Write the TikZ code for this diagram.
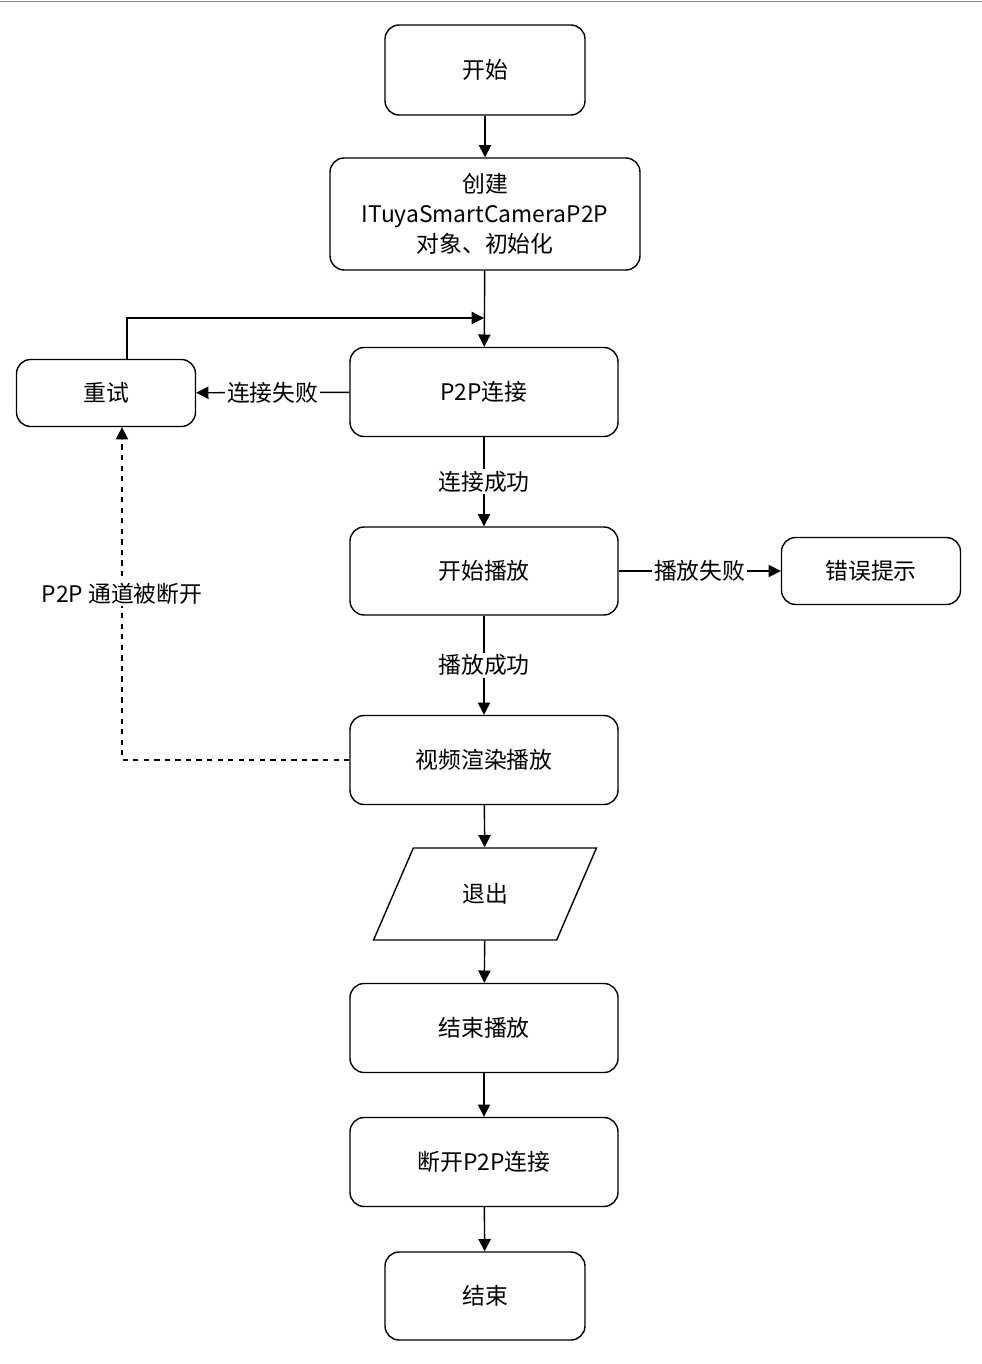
\documentclass[tikz,border=0pt]{standalone}
\usepackage{fontspec}
\setmainfont{Noto Sans CJK SC}
\usetikzlibrary{shapes.geometric,arrows.meta}

\begin{document}
\begin{tikzpicture}[x=0.02cm,y=-0.02cm,
  box/.style={draw, thick, rounded corners=8pt, align=center, inner sep=0pt,
    font=\fontsize{13}{17}\selectfont},
  lbl/.style={fill=white, inner sep=1pt, font=\fontsize{13}{16}\selectfont},
  arr/.style={thick, -{Triangle[length=7pt,width=7pt]}}]

\useasboundingbox (0,0) rectangle (982,1364);
\draw[gray, very thin] (0,1) -- (982,1);

% nodes
\node[box, minimum width=4cm, minimum height=1.8cm] (start) at (485,70) {开始};
\node[box, minimum width=6.2cm, minimum height=2.24cm] (create) at (485,214) {创建\\ITuyaSmartCameraP2P\\对象、初始化};
\node[box, minimum width=5.36cm, minimum height=1.78cm] (p2p) at (484,392) {P2P连接};
\node[box, minimum width=3.58cm, minimum height=1.34cm] (retry) at (106,393) {重试};
\node[box, minimum width=5.36cm, minimum height=1.76cm] (play) at (484,571) {开始播放};
\node[box, minimum width=3.58cm, minimum height=1.34cm] (error) at (871,571) {错误提示};
\node[box, minimum width=5.36cm, minimum height=1.78cm] (render) at (484,760) {视频渲染播放};
\node[draw, thick, trapezium, trapezium left angle=64, trapezium right angle=116,
  trapezium stretches=true, minimum width=4.48cm, minimum height=1.84cm,
  font=\fontsize{13}{17}\selectfont] (exit) at (485,894) {退出};
\node[box, minimum width=5.36cm, minimum height=1.78cm] (stop) at (484,1028) {结束播放};
\node[box, minimum width=5.36cm, minimum height=1.78cm] (disc) at (484,1162) {断开P2P连接};
\node[box, minimum width=4cm, minimum height=1.76cm] (end) at (485,1296) {结束};

\coordinate (loop) at (484,318);

% connectors
\draw[arr] (start) -- (create);
\draw[arr] (create) -- (p2p);
\draw[arr] (retry.north -| 127,0) |- (loop);
\draw[arr] (p2p) -- node[lbl] {连接失败} (retry);
\draw[arr] (p2p) -- node[lbl] {连接成功} (play);
\draw[arr] (play) -- node[lbl] {播放失败} (error);
\draw[arr] (play) -- node[lbl] {播放成功} (render);
\draw[arr, dashed] (render.west) -| node[lbl, pos=0.75] {P2P 通道被断开} (retry.south -| 122,0);
\draw[arr] (render) -- (exit);
\draw[arr] (exit) -- (stop);
\draw[arr] (stop) -- (disc);
\draw[arr] (disc) -- (end);

\end{tikzpicture}
\end{document}
